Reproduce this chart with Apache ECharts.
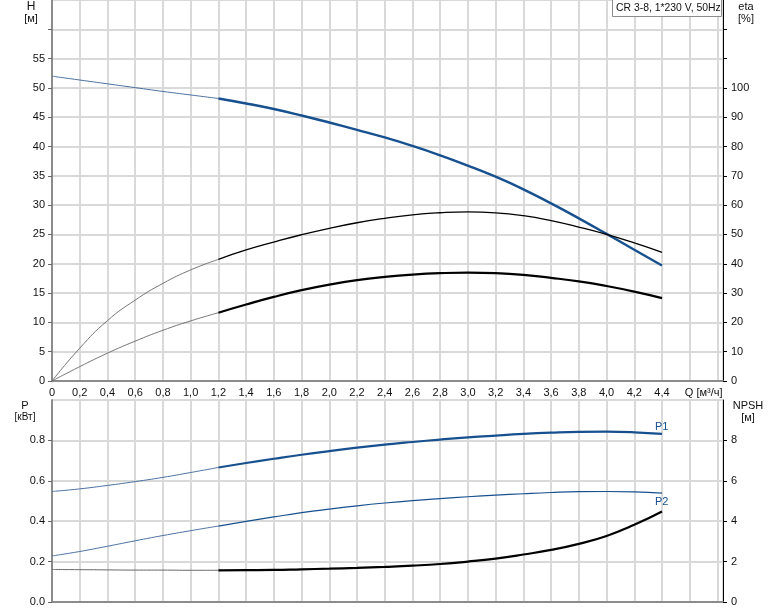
<!DOCTYPE html>
<html><head><meta charset="utf-8">
<script src="https://cdn.jsdelivr.net/npm/echarts@6/dist/echarts.min.js"></script>
<style>html,body{margin:0;padding:0;background:#fff}#c{width:774px;height:611px}</style>
</head><body><div id="c"></div>
<script>
// Flow rate Q [m3/h]
var Q = [0,0.2,0.4,0.6,0.8,1.0,1.2,1.4,1.6,1.8,2.0,2.2,2.4,2.6,2.8,3.0,3.2,3.4,3.6,3.8,4.0,4.2,4.4];
// Head H [m]
var H = [52.0,51.35,50.7,50.05,49.4,48.8,48.2,47.35,46.4,45.3,44.1,42.85,41.55,40.1,38.5,36.75,34.85,32.7,30.3,27.75,25.1,22.4,19.7];
// Efficiencies [%]
var ETA1 = [0,11.2,20.6,27.6,33.3,37.9,41.5,44.7,47.4,49.9,52.1,54.0,55.5,56.7,57.4,57.7,57.4,56.4,54.7,52.5,50.0,47.1,43.9];
var ETA2 = [0,4.9,9.5,13.6,17.3,20.5,23.3,26.1,28.7,31.0,32.9,34.4,35.5,36.3,36.8,37.0,36.8,36.2,35.2,34.0,32.4,30.5,28.3];
// Power [kW]
var P1 = [0.547,0.560,0.577,0.596,0.617,0.641,0.666,0.688,0.709,0.729,0.747,0.764,0.779,0.792,0.804,0.815,0.824,0.832,0.838,0.842,0.843,0.840,0.832];
var P2 = [0.228,0.250,0.276,0.303,0.329,0.353,0.376,0.399,0.421,0.442,0.460,0.476,0.490,0.502,0.512,0.521,0.529,0.536,0.542,0.546,0.547,0.545,0.539];
// NPSH [m]
var NPSH = [1.61,1.60,1.59,1.58,1.58,1.57,1.57,1.58,1.59,1.62,1.65,1.69,1.74,1.80,1.88,2.0,2.15,2.35,2.58,2.88,3.27,3.82,4.48];
var SPLIT = 6; // index of Q = 1.2 where the operating range begins
var TITLE = 'CR 3-8, 1*230 V, 50Hz';

function pairs(arr, from, to){ var o=[]; for(var i=from;i<=to;i++) o.push([Q[i], arr[i]]); return o; }
var last = Q.length-1;
var BLUE = '#17508f', BLUE_T = '#4a70a0', BLACK='#000', BLACK_T='#666';
var FONT = 'Liberation Sans, Arial, sans-serif';
var GRID = {color:'#d9d9d9', width:2};

function line(name, arr, xi, yi, from, to, color, w, endText, endOffset){
  var s = {name:name, type:'line', xAxisIndex:xi, yAxisIndex:yi, data:pairs(arr,from,to), smooth:0.5,
    symbol:'none', lineStyle:{color:color, width:w}, silent:true, animation:false, z:5};
  if (endText) s.endLabel = {show:true, formatter:endText, distance:0, offset:endOffset, color:BLUE, fontSize:11, fontFamily:FONT};
  return s;
}

var chart = echarts.init(document.getElementById('c'), null, {renderer:'canvas'});
chart.setOption({
  animation:false,
  grid:[{left:52, right:51, top:0, height:381}, {left:52, right:51, top:400, height:202}],
  xAxis:[
    {gridIndex:0, type:'value', min:0, max:4.84, interval:0.2,
      axisLine:{lineStyle:{color:'#8c8c8c', width:2}}, axisTick:{show:false},
      splitLine:{show:true, lineStyle:GRID},
      axisLabel:{color:'#111', fontSize:11, fontFamily:FONT, margin:6, showMaxLabel:false,
        formatter:function(v){ if (Math.abs(v-4.6)<1e-6) return '{q|Q [м³/ч]}'; if (v>4.5) return ''; return (Math.round(v*10)/10).toFixed(v===0?0:1).replace('.',','); },
        rich:{q:{fontSize:11, fontFamily:FONT, color:'#111', padding:[0,0,0,28]}}}},
    {gridIndex:1, type:'value', position:'top', min:0, max:4.84, interval:0.2,
      axisLine:{lineStyle:{color:'#8c8c8c', width:2}}, axisTick:{show:false}, axisLabel:{show:false},
      splitLine:{show:true, lineStyle:GRID}}
  ],
  yAxis:[
    {gridIndex:0, type:'value', min:0, max:65, interval:5,
      axisLine:{show:true, lineStyle:{color:'#8c8c8c', width:2}},
      axisTick:{show:true, length:4, lineStyle:{color:'#666'}},
      splitLine:{show:true, lineStyle:GRID},
      axisLabel:{color:'#111', fontSize:11, fontFamily:FONT, margin:7, showMaxLabel:false, formatter:function(v){return v>55?'':String(v);}}},
    {gridIndex:0, type:'value', position:'right', min:0, max:130, interval:10,
      axisLine:{show:true, lineStyle:{color:'#000', width:1}},
      axisTick:{show:true, length:4, lineStyle:{color:'#000'}},
      splitLine:{show:false},
      axisLabel:{color:'#111', fontSize:11, fontFamily:FONT, margin:8, showMaxLabel:false, formatter:function(v){return v>100?'':String(v);}}},
    {gridIndex:1, type:'value', min:0, max:1.0, interval:0.2,
      axisLine:{show:true, lineStyle:{color:'#8c8c8c', width:2}},
      axisTick:{show:true, length:4, lineStyle:{color:'#666'}},
      splitLine:{show:true, lineStyle:GRID},
      axisLabel:{color:'#111', fontSize:11, fontFamily:FONT, margin:7, showMaxLabel:false, formatter:function(v){return v>0.9?'':v.toFixed(1);}}},
    {gridIndex:1, type:'value', position:'right', min:0, max:10, interval:2,
      axisLine:{show:true, lineStyle:{color:'#000', width:1}},
      axisTick:{show:true, length:4, lineStyle:{color:'#000'}},
      splitLine:{show:false},
      axisLabel:{color:'#111', fontSize:11, fontFamily:FONT, margin:8, showMaxLabel:false, formatter:function(v){return v>9?'':String(v);}}}
  ],
  series:[
    line('H', H, 0, 0, 0, SPLIT, BLUE_T, 1),
    line('H', H, 0, 0, SPLIT, last, BLUE, 2.4),
    line('eta1', ETA1, 0, 1, 0, SPLIT, BLACK_T, 0.9),
    line('eta1', ETA1, 0, 1, SPLIT, last, BLACK, 1.3),
    line('eta2', ETA2, 0, 1, 0, SPLIT, BLACK_T, 0.9),
    line('eta2', ETA2, 0, 1, SPLIT, last, BLACK, 2.2),
    line('P1', P1, 1, 2, 0, SPLIT, BLUE_T, 1),
    line('P1', P1, 1, 2, SPLIT, last, BLUE, 2.2, 'P1', [-7, -7]),
    line('P2', P2, 1, 2, 0, SPLIT, BLUE_T, 1),
    line('P2', P2, 1, 2, SPLIT, last, BLUE, 1.2, 'P2', [-7, 9]),
    line('NPSH', NPSH, 1, 3, 0, SPLIT, BLACK_T, 1),
    line('NPSH', NPSH, 1, 3, SPLIT, last, BLACK, 2.2)
  ],
  graphic:[
    {type:'text', style:{x:31, y:1, text:'H', fill:'#111', font:'12px '+FONT, textAlign:'center', textVerticalAlign:'top'}},
    {type:'text', style:{x:31, y:13, text:'[м]', fill:'#111', font:'11px '+FONT, textAlign:'center', textVerticalAlign:'top'}},
    {type:'text', style:{x:746, y:1, text:'eta', fill:'#111', font:'11px '+FONT, textAlign:'center', textVerticalAlign:'top'}},
    {type:'text', style:{x:746, y:13, text:'[%]', fill:'#111', font:'11px '+FONT, textAlign:'center', textVerticalAlign:'top'}},
    {type:'text', style:{x:25, y:400, text:'P', fill:'#111', font:'11px '+FONT, textAlign:'center', textVerticalAlign:'top'}},
    {type:'text', style:{x:25, y:412, text:'[кВт]', fill:'#111', font:'10px '+FONT, textAlign:'center', textVerticalAlign:'top'}},
    {type:'text', style:{x:748, y:400, text:'NPSH', fill:'#111', font:'11px '+FONT, textAlign:'center', textVerticalAlign:'top'}},
    {type:'text', style:{x:748, y:412, text:'[м]', fill:'#111', font:'11px '+FONT, textAlign:'center', textVerticalAlign:'top'}},
    {type:'rect', z:100, shape:{x:612.5, y:-1, width:109, height:17.5}, style:{fill:'#fff', stroke:'#8c8c8c', lineWidth:1}},
    {type:'text', z:101, style:{x:616, y:8, text:TITLE, fill:'#111', font:'10.4px '+FONT, textAlign:'left', textVerticalAlign:'middle'}}
  ]
});
</script></body></html>
